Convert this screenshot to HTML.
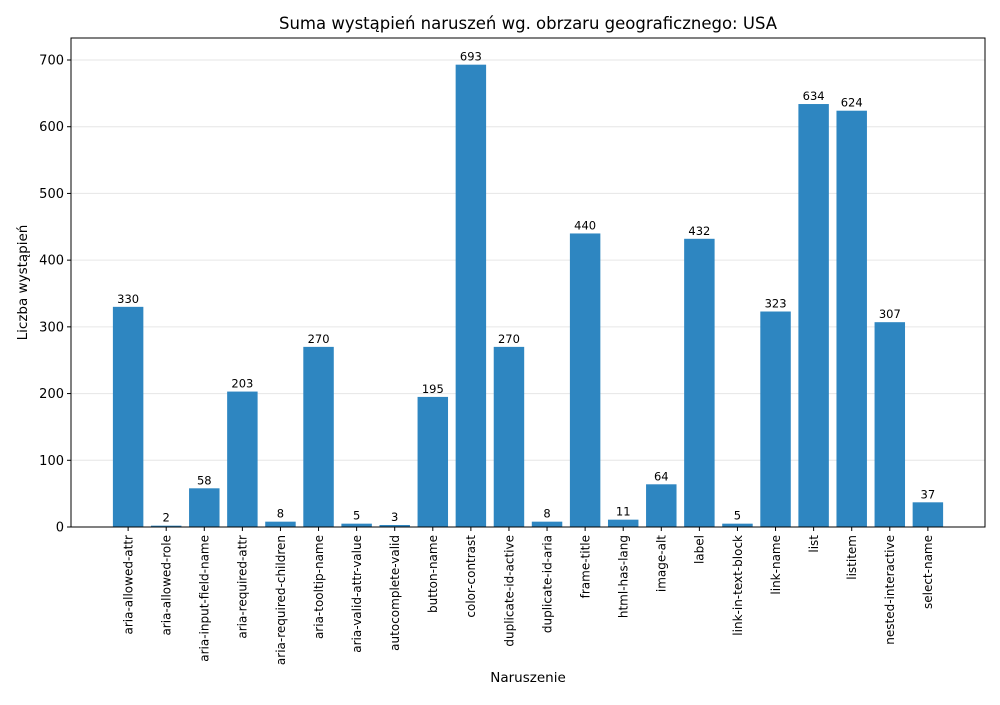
<!DOCTYPE html>
<html><head><meta charset="utf-8"><style>
body{margin:0;background:#fff;font-family:"Liberation Sans","DejaVu Sans",sans-serif}
</style></head><body>
<svg id="c" width="1000" height="700" xmlns="http://www.w3.org/2000/svg" font-family="DejaVu Sans, Liberation Sans, sans-serif"></svg>
<script>
const categories=["aria-allowed-attr","aria-allowed-role","aria-input-field-name","aria-required-attr","aria-required-children","aria-tooltip-name","aria-valid-attr-value","autocomplete-valid","button-name","color-contrast","duplicate-id-active","duplicate-id-aria","frame-title","html-has-lang","image-alt","label","link-in-text-block","link-name","list","listitem","nested-interactive","select-name"];
const values=[330,2,58,203,8,270,5,3,195,693,270,8,440,11,64,432,5,323,634,624,307,37];
const yTicks=[0,100,200,300,400,500,600,700];
const L=71,R=985,T=38,B=527;
const xMin=-1.5,xMax=categories.length+0.5;
const x=i=>L+(i-xMin)/(xMax-xMin)*(R-L);
const y=v=>B-v*(467/700);
const bw=0.8*(R-L)/(xMax-xMin);
const s=document.getElementById('c');
const NS="http://www.w3.org/2000/svg";
function mk(t,a,txt){const e=document.createElementNS(NS,t);for(const k in a)e.setAttribute(k,a[k]);if(txt!=null)e.textContent=txt;s.appendChild(e);return e;}
yTicks.forEach(v=>{
 const g=mk('line',{x1:L,x2:R,y1:y(v),y2:y(v),stroke:'#e6e6e6','stroke-width':1});
 
 
 const tk=mk('line',{x1:L-4,x2:L,y1:y(v),y2:y(v),stroke:'#000'});
 
 
 const t=mk('text',{x:L-7,y:y(v)+4.5,'text-anchor':'end','font-size':13},v);
 
 
});
categories.forEach((c,i)=>{
 const r=mk('rect',{x:x(i)-bw/2,y:y(values[i]),width:bw,height:B-y(values[i]),fill:'#2e86c1'});
 
 
 const v=mk('text',{x:x(i),y:y(values[i])-4,'text-anchor':'middle','font-size':11.5},values[i]);
 
 
 const tk=mk('line',{x1:x(i),x2:x(i),y1:B,y2:B+4,stroke:'#000'});
 
 
 const t=mk('text',{transform:`translate(${x(i)+4.3},${B+8}) rotate(-90)`,'text-anchor':'end','font-size':12},c);
 
 
});
const f=mk('rect',{x:L,y:T,width:R-L,height:B-T,fill:'none',stroke:'#000','stroke-width':1});


const ti=mk('text',{x:(L+R)/2,y:29,'text-anchor':'middle','font-size':16.5},'Suma wystąpień naruszeń wg. obrzaru geograficznego: USA');


const xl=mk('text',{x:(L+R)/2,y:682,'text-anchor':'middle','font-size':13.5},'Naruszenie');


const yl=mk('text',{transform:`translate(27,${(T+B)/2}) rotate(-90)`,'text-anchor':'middle','font-size':13.5},'Liczba wystąpień');


</script>
</body></html>
